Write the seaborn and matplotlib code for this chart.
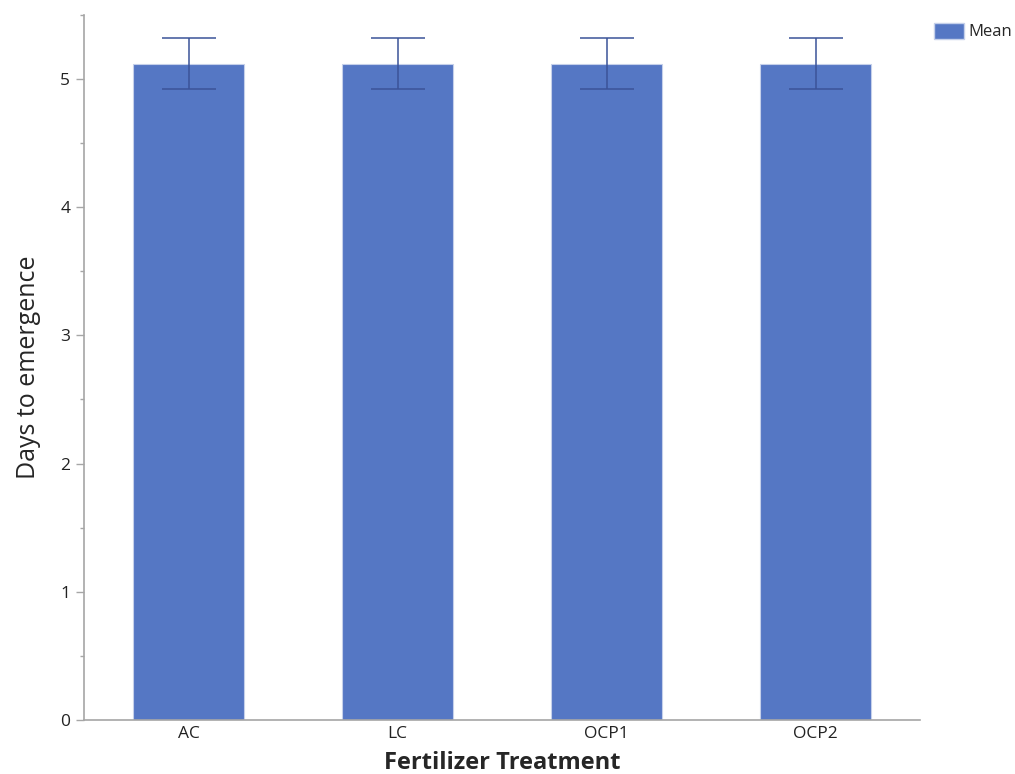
import numpy as np
import pandas as pd
import matplotlib
matplotlib.use("Agg")
import matplotlib.pyplot as plt
from matplotlib.ticker import MultipleLocator
from matplotlib.patches import Patch
import seaborn as sns

# data
treatments = ["AC", "LC", "OCP1", "OCP2"]
mean_days = [5.12, 5.12, 5.12, 5.12]
err_days = [0.2, 0.2, 0.2, 0.2]

df = pd.DataFrame({"Treatment": treatments, "Mean": mean_days, "Err": err_days})

sns.set_style("white")
plt.rcParams["font.family"] = ["Open Sans", "DejaVu Sans"]

bar_color = "#5577c4"
err_color = "#3b5398"
grey = "#a6a6a6"

fig = plt.figure(figsize=(10.15, 7.74), dpi=100)
ax = fig.add_axes([0.0828, 0.0698, 0.8236, 0.911])

sns.barplot(data=df, x="Treatment", y="Mean", color=bar_color, saturation=1,
            width=0.53, errorbar=None, edgecolor="#c5d0ea", linewidth=0.8, ax=ax)
ax.errorbar(np.arange(len(df)), df["Mean"], yerr=df["Err"], fmt="none",
            ecolor=err_color, elinewidth=1.1, capsize=19.5, capthick=1.1)

ax.set_xlim(-0.5, len(df) - 0.5)
ax.set_ylim(0, 5.5)
ax.yaxis.set_major_locator(MultipleLocator(1))
ax.yaxis.set_minor_locator(MultipleLocator(0.5))

for side in ["top", "right"]:
    ax.spines[side].set_visible(False)
for side in ["left", "bottom"]:
    ax.spines[side].set_color(grey)
    ax.spines[side].set_linewidth(1.2)

ax.tick_params(axis="y", which="major", length=6, width=1, color=grey,
               labelsize=12.5, labelcolor="#222222", left=True, pad=4)
ax.tick_params(axis="y", which="minor", length=3, width=1, color=grey, left=True)
ax.tick_params(axis="x", length=0, labelsize=12.5, labelcolor="#222222", pad=4)

ax.set_xlabel("Fertilizer Treatment", fontsize=17, fontweight="bold", labelpad=7)
ax.set_ylabel("Days to emergence", fontsize=18, labelpad=14)

ax.legend(handles=[Patch(facecolor=bar_color, edgecolor="#c5d0ea", label="Mean")],
          loc="upper right", bbox_to_anchor=(1.0, 0.975), bbox_transform=fig.transFigure,
          frameon=False, fontsize=12, handlelength=1.8, handleheight=1.1,
          handletextpad=0.25, borderaxespad=0, borderpad=0.2)

fig.savefig("out.png", dpi=100)
